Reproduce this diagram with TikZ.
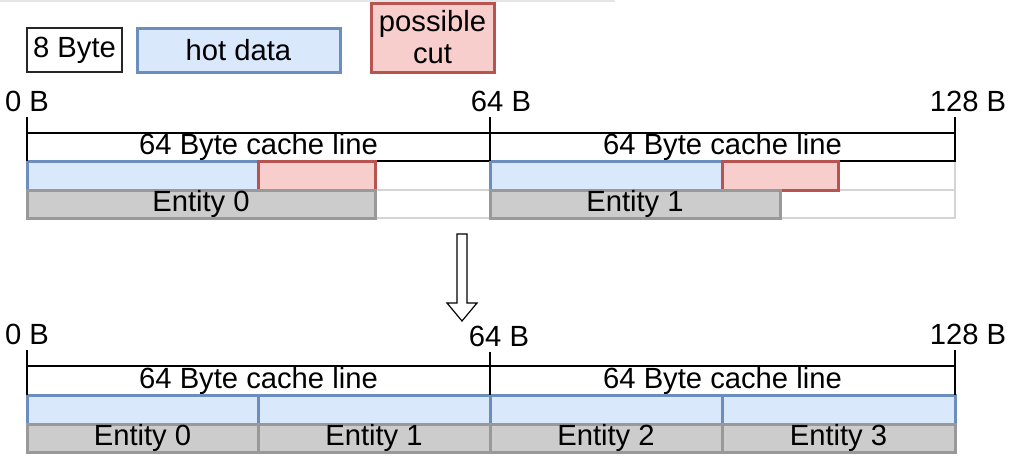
\documentclass[tikz,border=0pt]{standalone}
\usepackage{fontspec}
\setmainfont{Liberation Sans}
\definecolor{hotfill}{HTML}{DAE8FC}
\definecolor{hotline}{HTML}{6C8EBF}
\definecolor{cutfill}{HTML}{F8CECC}
\definecolor{cutline}{HTML}{B85450}
\definecolor{entfill}{HTML}{CCCCCC}
\definecolor{entline}{HTML}{999999}
\definecolor{emptyline}{HTML}{D4D4D4}
\definecolor{topline}{HTML}{E6E6E6}
\begin{document}
\begin{tikzpicture}[x=1pt,y=-1pt,
  every node/.style={font=\fontsize{29.2}{32}\selectfont, inner sep=0pt, outer sep=0pt},
  hot/.style={fill=hotfill, draw=hotline, line width=3pt},
  cut/.style={fill=cutfill, draw=cutline, line width=3pt},
  ent/.style={fill=entfill, draw=entline, line width=3pt},
  emptycell/.style={draw=emptyline, line width=1.6pt},
  cline/.style={draw=black, line width=1.4pt},
  tick/.style={draw=black, line width=1.4pt},
  lbl/.style={anchor=base}]
\useasboundingbox (0,0) rectangle (1029,472);
\draw[topline, line width=1.5pt] (0,1) -- (615,1);

% legend
\node[draw=black!85, line width=1.6pt, anchor=north west, minimum width=95, minimum height=44] (leg8) at (27,28) {8 Byte};
\node[hot, anchor=north west, minimum width=203, minimum height=44] (leghot) at (137,28) {hot data};
\node[cut, anchor=north west, minimum width=123, minimum height=69, align=center] (legcut) at (371,3) {possible\\cut};

% ===== top layout =====
\node[lbl] (t0) at (27,111) {0 B};
\node[lbl] (t64) at (501,111) {64 B};
\node[lbl] (t128) at (968,111) {128 B};

\node[emptycell, anchor=north west, minimum width=463, minimum height=29] (e0a) at (27,161) {};
\node[emptycell, anchor=north west, minimum width=463, minimum height=28] (e0b) at (27,190) {};
\node[emptycell, anchor=north west, minimum width=465, minimum height=29] (e1a) at (490,161) {};
\node[emptycell, anchor=north west, minimum width=465, minimum height=28] (e1b) at (490,190) {};

\node[cline, anchor=north west, minimum width=463, minimum height=28] (c0) at (27,133) {64 Byte cache line};
\node[cline, anchor=north west, minimum width=465, minimum height=28] (c1) at (490,133) {64 Byte cache line};

\node[hot, anchor=north west, minimum width=231, minimum height=29] (h0) at (27,161) {};
\node[cut, anchor=north west, minimum width=117, minimum height=29] (r0) at (258,161) {};
\node[ent, anchor=north west, minimum width=348, minimum height=28] (n0) at (27,190) {Entity 0};

\node[hot, anchor=north west, minimum width=232, minimum height=29] (h1) at (490,161) {};
\node[cut, anchor=north west, minimum width=116, minimum height=29] (r1) at (722,161) {};
\node[ent, anchor=north west, minimum width=290, minimum height=28] (n1) at (490,190) {Entity 1};

\coordinate (k0) at (27,117);
\coordinate (k1) at (490,117);
\coordinate (k2) at (955,117);
\draw[tick] (k0) -- (c0.south west);
\draw[tick] (k1) -- (c1.south west);
\draw[tick] (k2) -- (c1.south east);

% arrow
\draw[line width=1.2pt, fill=white, line join=miter]
  (457,234) -- (467,234) -- (467,303) -- (477,303) -- (462,321) -- (447,303) -- (457,303) -- cycle;

% ===== bottom layout =====
\node[lbl] (b0) at (27,344) {0 B};
\node[lbl] (b64) at (499,346) {64 B};
\node[lbl] (b128) at (968,344) {128 B};

\node[cline, anchor=north west, minimum width=463, minimum height=29] (d0) at (27,366) {64 Byte cache line};
\node[cline, anchor=north west, minimum width=465, minimum height=29] (d1) at (490,366) {64 Byte cache line};

\node[hot, anchor=north west, minimum width=231, minimum height=29] (g0) at (27,395) {};
\node[hot, anchor=north west, minimum width=232, minimum height=29] (g1) at (258,395) {};
\node[hot, anchor=north west, minimum width=232, minimum height=29] (g2) at (490,395) {};
\node[hot, anchor=north west, minimum width=233, minimum height=29] (g3) at (722,395) {};

\node[ent, anchor=north west, minimum width=231, minimum height=28] (m0) at (27,424) {Entity 0};
\node[ent, anchor=north west, minimum width=232, minimum height=28] (m1) at (258,424) {Entity 1};
\node[ent, anchor=north west, minimum width=232, minimum height=28] (m2) at (490,424) {Entity 2};
\node[ent, anchor=north west, minimum width=233, minimum height=28] (m3) at (722,424) {Entity 3};

\coordinate (j0) at (27,350);
\coordinate (j1) at (490,352);
\coordinate (j2) at (955,350);
\draw[tick] (j0) -- (d0.south west);
\draw[tick] (j1) -- (d1.south west);
\draw[tick] (j2) -- (d1.south east);
\end{tikzpicture}
\end{document}
